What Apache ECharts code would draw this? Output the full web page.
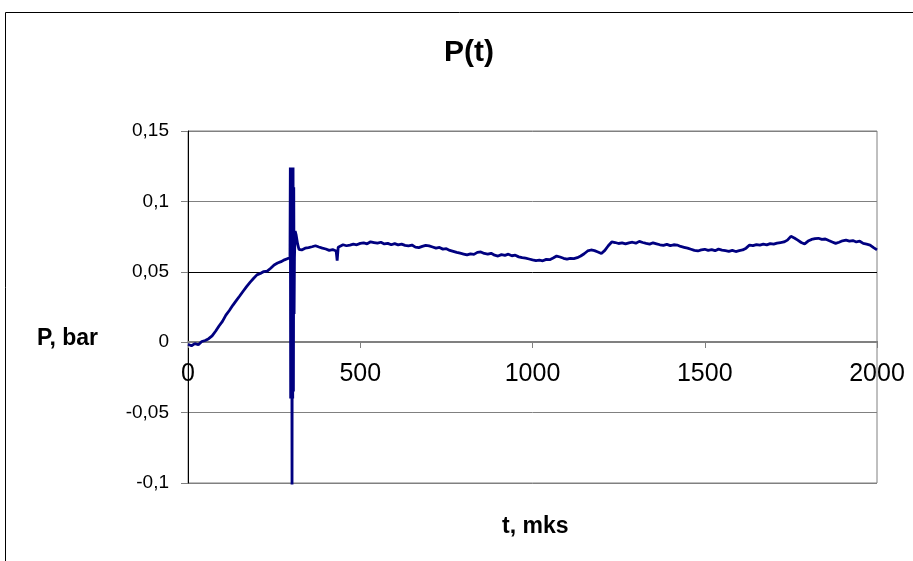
<!DOCTYPE html>
<html>
<head>
<meta charset="utf-8">
<script src="https://cdn.jsdelivr.net/npm/echarts@6/dist/echarts.min.js"></script>
<style>
html,body{margin:0;padding:0;background:#fff;}
#chart{width:913px;height:561px;}
</style>
</head>
<body>
<div id="chart"></div>
<script>
const chartTitle = 'P(t)';
const xAxisTitle = 't, mks';
const yAxisTitle = 'P, bar';

const tValues = [
0,10,20,30,40,50,60,70,80,90,100,110,120,130,140,150,160,170,180,190,200,210,220,230,240,250,260,270,280,290,
296,297,298,299,300,301,302,303,304,305,306,307,308,309,311,314,318,322,
330,340,350,360,370,380,390,400,410,420,430,433,436,440,450,460,470,480,490,
500,510,520,530,540,550,560,570,580,590,600,610,620,630,640,650,660,670,680,690,
700,710,720,730,740,750,760,770,780,790,800,810,820,830,840,850,860,870,880,890,
900,910,920,930,940,950,960,970,980,990,1000,1010,1020,1030,1040,1050,1060,1070,1080,1090,
1100,1110,1120,1130,1140,1150,1160,1170,1180,1190,1200,1210,1220,1230,1240,1250,1260,1270,1280,1290,
1300,1310,1320,1330,1340,1350,1360,1370,1380,1390,1400,1410,1420,1430,1440,1450,1460,1470,1480,1490,
1500,1510,1520,1530,1540,1550,1560,1570,1580,1590,1600,1610,1620,1630,1640,1650,1660,1670,1680,1690,
1700,1710,1720,1730,1740,1750,1760,1770,1780,1790,1800,1810,1820,1830,1840,1850,1860,1870,1880,1890,
1900,1910,1920,1930,1940,1950,1960,1970,1980,1990,2000
];

const pValues = [
-0.0015,-0.0025,-0.001,-0.0018,0.0005,0.0012,0.0025,0.0045,0.0078,0.0115,0.0148,0.0192,0.0225,0.0262,0.0295,0.0328,0.0362,0.0395,0.0425,0.0452,0.0478,0.0488,0.0502,0.0505,0.0525,0.0548,0.0562,0.0572,0.0585,0.0595,
0.0598,0.124,-0.04,0.124,-0.04,0.124,-0.105,0.123,-0.04,0.124,-0.035,0.11,0.02,0.06,0.079,0.076,0.070,0.066,
0.0655,0.0668,0.0672,0.0678,0.0685,0.0676,0.0668,0.0662,0.0652,0.0658,0.0648,0.058,0.0675,0.0688,0.0692,0.0685,0.0690,0.0697,0.0692,
0.0702,0.0706,0.0699,0.0713,0.0708,0.0703,0.0710,0.0698,0.0702,0.0692,0.0700,0.0691,0.0697,0.0688,0.0684,0.0690,0.0675,0.0672,0.0681,0.0688,
0.0684,0.0676,0.0668,0.0673,0.0661,0.0664,0.0652,0.0645,0.0638,0.0632,0.0626,0.0620,0.0627,0.0624,0.0638,0.0641,0.0630,0.0625,0.0631,0.0618,
0.0612,0.0622,0.0617,0.0625,0.0614,0.0618,0.0606,0.0600,0.0597,0.0591,0.0585,0.0580,0.0583,0.0578,0.0588,0.0586,0.0598,0.0612,0.0605,0.0596,
0.0590,0.0596,0.0593,0.0600,0.0612,0.0628,0.0648,0.0655,0.0650,0.0641,0.0630,0.0652,0.0685,0.0712,0.0708,0.0701,0.0705,0.0698,0.0706,0.0710,
0.0703,0.0716,0.0708,0.0702,0.0697,0.0706,0.0699,0.0692,0.0688,0.0695,0.0686,0.0692,0.0690,0.0680,0.0674,0.0668,0.0660,0.0652,0.0648,0.0656,
0.0660,0.0652,0.0658,0.0650,0.0661,0.0654,0.0650,0.0645,0.0652,0.0644,0.0650,0.0655,0.0668,0.0690,0.0686,0.0693,0.0689,0.0696,0.0691,0.0700,
0.0697,0.0704,0.0708,0.0712,0.0725,0.0752,0.0740,0.0725,0.0708,0.0698,0.0718,0.0730,0.0735,0.0738,0.0730,0.0733,0.0722,0.0712,0.0702,0.0710,
0.0720,0.0725,0.0718,0.0722,0.0712,0.0717,0.0702,0.0696,0.0690,0.0672,0.0656
];

const xTicks = [0, 500, 1000, 1500, 2000];
const yTicks = [-0.1, -0.05, 0, 0.05, 0.1, 0.15];

const seriesData = tValues.map((t, i) => [t, pValues[i]]);

const chart = echarts.init(document.getElementById('chart'), null, {renderer: 'canvas'});
const FONT = '"Liberation Sans", Arial, sans-serif';
chart.setOption({
  animation: false,
  backgroundColor: '#fff',
  title: [
    {text: chartTitle, left: 439, top: 33, textStyle: {fontFamily: FONT, fontSize: 30, fontWeight: 'bold', color: '#000'}},
    {text: yAxisTitle, left: 32, top: 322, textStyle: {fontFamily: FONT, fontSize: 23, fontWeight: 'bold', color: '#000'}},
    {text: xAxisTitle, left: 497, top: 510, textStyle: {fontFamily: FONT, fontSize: 23, fontWeight: 'bold', color: '#000'}}
  ],
  graphic: [
    {type: 'rect', shape: {x: 5.5, y: 12.5, width: 1000, height: 1000}, style: {fill: 'none', stroke: '#000', lineWidth: 1}, silent: true, z: 0}
  ],
  grid: {left: 188, right: 36, top: 131, bottom: 78, show: true, borderColor: '#808080', borderWidth: 1},
  xAxis: {
    type: 'value', min: xTicks[0], max: xTicks[xTicks.length - 1], interval: 500,
    offset: -142,
    axisLine: {onZero: false, lineStyle: {color: '#808080', width: 1}},
    axisTick: {show: true, length: 7, lineStyle: {color: '#808080'}},
    axisLabel: {fontFamily: FONT, fontSize: 25, color: '#000', margin: 21, formatter: v => String(v)},
    splitLine: {show: false}
  },
  yAxis: {
    type: 'value', min: yTicks[0], max: yTicks[yTicks.length - 1], interval: 0.05,
    axisLine: {show: true, lineStyle: {color: '#000', width: 1}},
    axisTick: {show: true, length: 7, lineStyle: {color: '#808080'}},
    axisLabel: {fontFamily: FONT, fontSize: 19, color: '#000', margin: 19,
      formatter: v => String(Math.round(v * 100) / 100).replace('.', ',')},
    splitLine: {show: true, lineStyle: {color: ['#808080', '#808080', '#808080', '#000', '#808080', '#808080'], width: 1}}
  },
  series: [{
    type: 'line', data: seriesData, showSymbol: false, symbol: 'none',
    lineStyle: {color: '#000080', width: 2.8}, clip: true
  }]
});
</script>
</body>
</html>
